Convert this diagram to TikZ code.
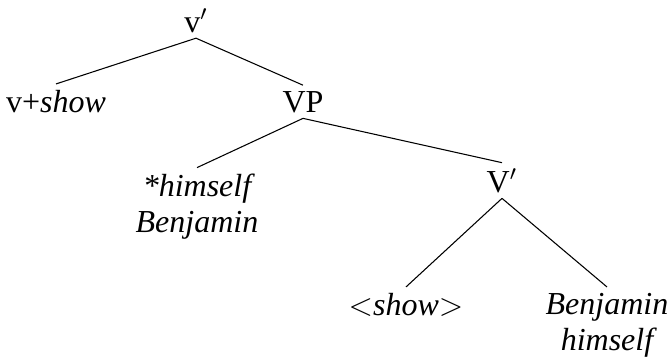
\documentclass[tikz,border=0pt]{standalone}
\usepackage{fontspec}
\setmainfont{Liberation Serif}
\usepackage{tikz}

\begin{document}
\begin{tikzpicture}[
  x=0.375pt,y=-0.375pt,
  cat/.style={inner sep=2pt,anchor=base,font=\fontsize{12}{13.5}\selectfont},
  leaf/.style={cat,align=center,font=\fontsize{12}{13.5}\selectfont\itshape},
  br/.style={line width=0.4pt}]
\useasboundingbox (0,0) rectangle (670,360);
% two-line leaves sit on the baseline of their last line
\node[cat]  (vbar)  at (196,32)  {v$'$};
\node[cat]  (vshow) at (56,112)  {v+\textit{show}};
\node[cat]  (vp)    at (303,112) {VP};
\node[leaf] (spec)  at (197,232) {*himself\\Benjamin};
\node[cat]  (vbarb) at (502,192) {V$'$};
\node[leaf] (trace) at (406,315) {$<$show$>$};
\node[leaf] (comp)  at (607,350) {Benjamin\\himself};
\draw[br] (vbar.south)  -- (vshow.north);
\draw[br] (vbar.south)  -- (vp.north);
\draw[br] (vp.south)    -- (spec.north);
\draw[br] (vp.south)    -- (vbarb.north);
\draw[br] (vbarb.south) -- (trace.north);
\draw[br] (vbarb.south) -- (comp.north);
\end{tikzpicture}
\end{document}
